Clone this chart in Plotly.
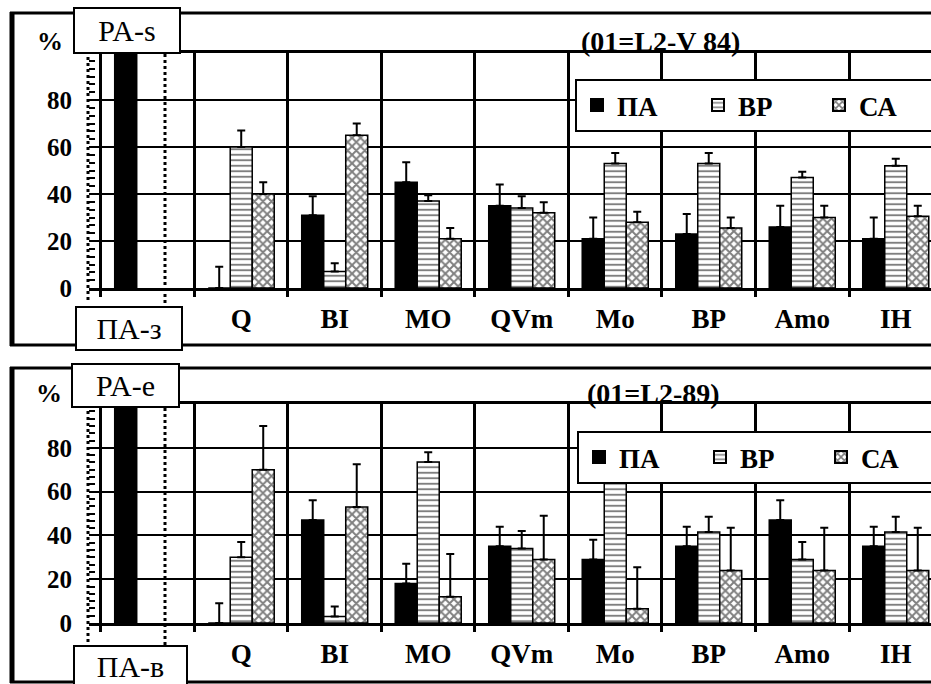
import plotly.graph_objects as go

W, H = 931, 684

# ---------------- data ----------------
ref_col = " "
categories = ["Q", "BI", "MO", "QVm", "Mo", "BP", "Amo", "IH"]
x_labels = [ref_col] + categories
series_names = ["ПА", "ВР", "СА"]

top_pa = [100, 0, 31, 45, 35, 21, 23, 26, 21]
top_pa_err = [None, 9, 8, 8.5, 9, 9, 8.5, 9, 9]
top_vr = [None, 60, 7, 37, 34, 53, 53, 47, 52]
top_vr_err = [None, 7, 3.5, 2.5, 5, 4.5, 4.5, 2.5, 3]
top_sa = [None, 40, 65, 21, 32, 28, 25.5, 30, 30.5]
top_sa_err = [None, 5, 5, 4.5, 4.5, 4.5, 4.5, 5, 4.5]

bot_pa = [100, 0, 47, 18, 35, 29, 35, 47, 35]
bot_pa_err = [None, 9, 9, 9, 9, 9, 9, 9, 9]
bot_vr = [None, 30, 3, 73.5, 34, 64.5, 41.5, 29, 41.5]
bot_vr_err = [None, 7, 4.5, 4.5, 8, 3, 7, 8, 7]
bot_sa = [None, 70, 53, 12, 29, 6.5, 24, 24, 24]
bot_sa_err = [None, 20, 19.5, 19.5, 20, 19, 19.5, 19.5, 19.5]

y_ticks = [0, 20, 40, 60, 80, 100]
y_ticktext = ["0", "20", "40", "60", "80", ""]

top_note = "(01=L2-V 84)"
bot_note = "(01=L2-89)"

# ---------------- helpers ----------------
def px(x):
    return x / W

def py(y):
    return 1 - y / H

SERIF = "Liberation Serif, Times New Roman, DejaVu Serif, serif"

def styles(i):
    if i == 0:
        return dict(color="black", line=dict(color="black", width=1.5))
    if i == 1:
        return dict(color="white", line=dict(color="black", width=1.5),
                    pattern=dict(shape="-", fgcolor="black", bgcolor="white",
                                 size=5.5, solidity=0.35, fillmode="overlay"))
    return dict(color="white", line=dict(color="black", width=1.5),
                pattern=dict(shape="x", fgcolor="black", bgcolor="white",
                             size=6, solidity=0.55, fillmode="overlay"))

fig = go.Figure()

panels = [
    (1, "legend", [top_pa, top_vr, top_sa], [top_pa_err, top_vr_err, top_sa_err]),
    (2, "legend2", [bot_pa, bot_vr, bot_sa], [bot_pa_err, bot_vr_err, bot_sa_err]),
]
for k, leg, vals, errs in panels:
    for i, name in enumerate(series_names):
        fig.add_trace(go.Bar(
            x=x_labels, y=vals[i], name=name,
            xaxis="x" if k == 1 else "x2",
            yaxis="y" if k == 1 else "y2",
            legend=leg,
            marker=styles(i),
            error_y=dict(type="data", array=errs[i], symmetric=False,
                         arrayminus=[0] * len(errs[i]),
                         color="black", thickness=2, width=4),
        ))

x_range = [-0.628, 8.377]
xdom = [px(89), 1]

def xaxis_cfg(anchor):
    return dict(
        type="category", domain=xdom, range=x_range, anchor=anchor,
        tickson="boundaries", showgrid=True, gridcolor="black", gridwidth=2.5,
        ticks="outside", ticklen=6, tickwidth=2.5, tickcolor="black",
        showline=True, mirror=True, linecolor="black", linewidth=2.5,
        tickfont=dict(family=SERIF, size=27, color="black", weight="bold"),
        ticklabelstandoff=5, fixedrange=True, automargin=False,
    )

def yaxis_cfg(dom, anchor):
    return dict(
        domain=dom, range=[0, 100], anchor=anchor,
        tickmode="array", tickvals=y_ticks, ticktext=y_ticktext,
        showgrid=True, gridcolor="black", gridwidth=2,
        ticks="", showline=False, zeroline=False,
        tickfont=dict(family=SERIF, size=25, color="black", weight="bold"),
        ticklabelstandoff=16,
        minor=dict(tickmode="array", tickvals=[v * 10 / 3 for v in range(1, 30)],
                   ticks="inside", ticklen=6, tickwidth=2, tickcolor="black",
                   showgrid=False),
        fixedrange=True, automargin=False,
    )

legend_common = dict(
    orientation="h", xanchor="left", yanchor="top",
    bgcolor="white", bordercolor="black", borderwidth=2,
    font=dict(family=SERIF, size=27, color="black", weight="bold"),
    entrywidth=76, entrywidthmode="pixels", traceorder="normal",
    itemsizing="constant",
)

fig.update_layout(
    width=W, height=H, autosize=False,
    margin=dict(l=0, r=0, t=0, b=0, pad=0, autoexpand=False),
    paper_bgcolor="white", plot_bgcolor="white",
    barmode="group", bargap=0.294, bargroupgap=0,
    xaxis=xaxis_cfg("y"),
    yaxis=yaxis_cfg([py(288), py(53)], "x"),
    xaxis2=xaxis_cfg("y2"),
    yaxis2=yaxis_cfg([py(623), py(404)], "x2"),
    legend=dict(x=px(575), y=py(79), **legend_common),
    legend2=dict(x=px(577), y=py(431), **legend_common),
)

# frames (open on the right, as the picture is cut there) and decorative lines
shapes = []
for top, bottom in [(13, 345), (368, 682)]:
    for y in (top, bottom):
        shapes.append(dict(type="line", xref="paper", yref="paper",
                           x0=px(10), x1=1, y0=py(y), y1=py(y),
                           line=dict(color="black", width=3), layer="below"))
    shapes.append(dict(type="line", xref="paper", yref="paper",
                       x0=px(12), x1=px(12), y0=py(bottom + 1), y1=py(top - 1),
                       line=dict(color="black", width=5), layer="below"))
for ytop, ybot in [(53, 300), (405, 642)]:
    shapes.append(dict(type="line", xref="paper", yref="paper",
                       x0=px(88), x1=px(88), y0=py(ybot), y1=py(ytop),
                       line=dict(color="black", width=3, dash="dot")))
    shapes.append(dict(type="line", xref="paper", yref="paper",
                       x0=px(165), x1=px(165), y0=py(ybot + 3), y1=py(ytop),
                       line=dict(color="black", width=3, dash="dot")))
fig.update_layout(shapes=shapes)

def box(text, cx, cy, w, h):
    return dict(text=text, xref="paper", yref="paper", x=px(cx), y=py(cy),
                xanchor="center", yanchor="middle", showarrow=False,
                width=w, height=h, borderpad=0, bgcolor="white",
                bordercolor="black", borderwidth=2,
                font=dict(family=SERIF, size=30, color="black"))

def label(text, cx, cy, size):
    return dict(text=text, xref="paper", yref="paper", x=px(cx), y=py(cy),
                xanchor="center", yanchor="middle", showarrow=False,
                font=dict(family=SERIF, size=size, color="black", weight="bold"))

fig.update_layout(annotations=[
    box("PA-s", 127, 30, 104, 43),
    box("ПА-з", 129, 328, 104, 41),
    box("PA-e", 125, 385, 105, 41),
    box("ПА-в", 130, 666, 111, 38),
    label("%", 50, 41, 26),
    label("%", 49, 393, 26),
    label(top_note, 660, 41, 28),
    label(bot_note, 653, 393, 28),
])

fig.write_html("out.html")
